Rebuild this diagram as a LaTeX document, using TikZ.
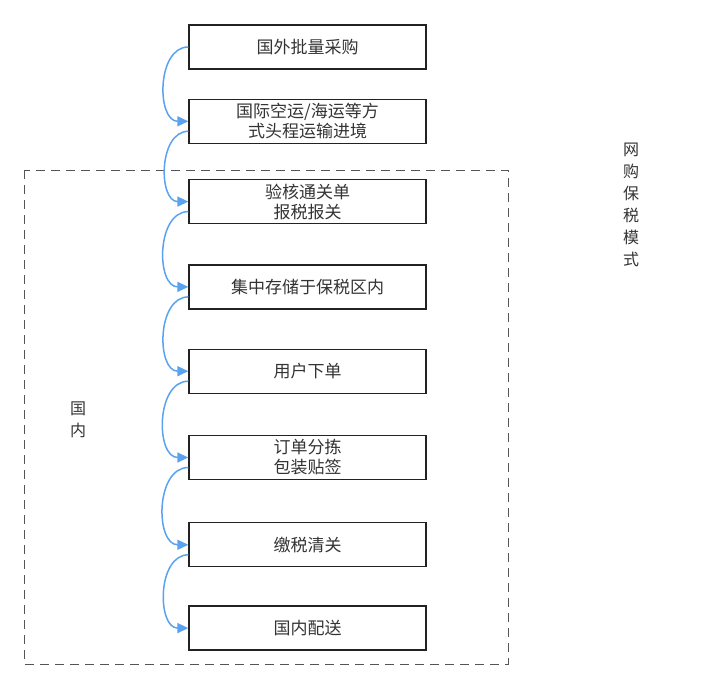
\documentclass[tikz,border=0pt]{standalone}
\usepackage{fontspec}
\setmainfont{Noto Sans CJK SC}
\usepackage{xcolor}
\usetikzlibrary{positioning,arrows.meta}
\definecolor{flowblue}{HTML}{5AA2F0}
\definecolor{boxline}{HTML}{222222}
\definecolor{textgray}{HTML}{333333}
\definecolor{zoneline}{HTML}{555555}

\begin{document}
\begin{tikzpicture}[x=1pt,y=-1pt,>={Triangle[length=11pt,width=10pt]},
                    flow node/.style={rectangle,draw=boxline,line width=1.3pt,
                    minimum width=237pt,minimum height=44pt,inner sep=0pt,
                    align=center,text=textgray,font=\fontsize{17}{20}\selectfont},
                    link/.style={->,draw=flowblue,line width=1.5pt,out=180,in=180,looseness=1.1},
                    side label/.style={align=center,text=textgray,font=\fontsize{16}{22}\selectfont}]

\useasboundingbox (0,0) rectangle (720,689);

% zone of the bonded area
\draw[zoneline,line width=1pt,dash pattern=on 9pt off 6pt] (24,170) rectangle (508,664);
\node[side label] (zone) at (78,420) {国\\内};
\node[side label] (mode) at (631,205) {网\\购\\保\\税\\模\\式};

\node[flow node] (buy) at (307.5,47) {国外批量采购};
\node[flow node,below=29pt of buy] (ship) {国际空运/海运等方\\式头程运输进境};
\node[flow node,below=35pt of ship] (check) {验核通关单\\报税报关};
\node[flow node,below=40pt of check] (store) {集中存储于保税区内};
\node[flow node,below=39pt of store] (order) {用户下单};
\node[flow node,below=41pt of order] (pack) {订单分拣\\包装贴签};
\node[flow node,below=42pt of pack] (tax) {缴税清关};
\node[flow node,below=38pt of tax] (deliver) {国内配送};

\path (buy.west) edge[link] (ship.west)
      ([yshift=-10pt]ship.west) edge[link] (check.west)
      ([yshift=-10pt]check.west) edge[link] (store.west)
      ([yshift=-10pt]store.west) edge[link] (order.west)
      ([yshift=-10pt]order.west) edge[link] (pack.west)
      ([yshift=-10pt]pack.west) edge[link] (tax.west)
      ([yshift=-10pt]tax.west) edge[link] (deliver.west);

\end{tikzpicture}
\end{document}
